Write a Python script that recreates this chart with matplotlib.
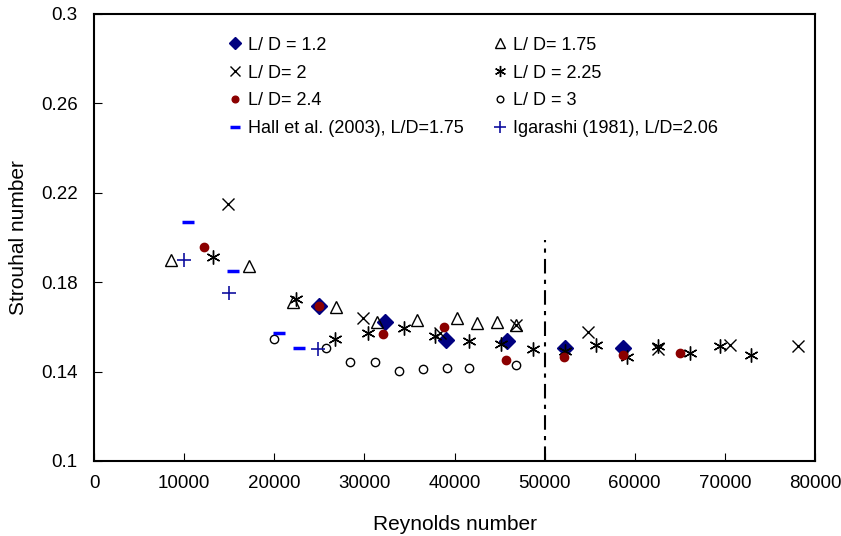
import numpy as np
import matplotlib.pyplot as plt

plt.rcParams['font.family'] = ['Liberation Sans', 'DejaVu Sans']

# L/D = 1.2
re_12 = [25000, 32300, 39100, 45800, 52300, 58700]
st_12 = [0.1694, 0.1622, 0.1541, 0.1537, 0.1506, 0.1506]

# L/D = 1.75
re_175 = [8540, 17200, 22080, 26850, 31400, 35840, 40280, 42490, 44710, 46820]
st_175 = [0.1899, 0.1872, 0.1711, 0.1689, 0.1622, 0.1631, 0.1640, 0.1617, 0.1622, 0.1609]

# L/D = 2
re_2 = [14870, 29850, 38390, 46820, 54810, 62580, 70570, 78110]
st_2 = [0.2150, 0.1640, 0.1573, 0.1609, 0.1577, 0.1501, 0.1519, 0.1515]

# L/D = 2.25
re_225 = [13200, 22410, 26740, 30400, 34400, 37830, 41610, 45160, 48710,
          52260, 55700, 59140, 62580, 66130, 69460, 72900]
st_225 = [0.1913, 0.1725, 0.1546, 0.1573, 0.1595, 0.1559, 0.1537, 0.1523, 0.1501,
          0.1492, 0.1519, 0.1465, 0.1515, 0.1483, 0.1515, 0.1474]

# L/D = 2.4
re_24 = [12200, 24960, 32070, 38830, 45710, 52150, 58690, 65020]
st_24 = [0.1957, 0.1694, 0.1568, 0.1600, 0.1452, 0.1465, 0.1474, 0.1483]

# L/D = 3
re_3 = [19970, 25740, 28400, 31180, 33840, 36500, 39170, 41610, 46820]
st_3 = [0.1546, 0.1506, 0.1443, 0.1443, 0.1403, 0.1412, 0.1416, 0.1416, 0.1430]

# Hall et al. (2003)
re_hall = [10430, 15420, 20530, 22750]
st_hall = [0.2069, 0.1850, 0.1573, 0.1506]

# Igarashi (1981)
re_iga = [9990, 14980, 24850]
st_iga = [0.1899, 0.1752, 0.1501]

x_ticks = [0, 10000, 20000, 30000, 40000, 50000, 60000, 70000, 80000]
y_ticks = [0.1, 0.14, 0.18, 0.22, 0.26, 0.3]
y_ticklabels = ['0.1', '0.14', '0.18', '0.22', '0.26', '0.3']

fig = plt.figure(figsize=(8.41, 5.36), dpi=100)
ax = fig.add_axes([0.112, 0.140, 0.857, 0.834])

h12, = ax.plot(re_12, st_12, 'D', color='#000080', ms=8, ls='none', label='L/ D = 1.2')
h175, = ax.plot(re_175, st_175, '^', mfc='none', mec='black', mew=1, ms=9, ls='none',
                label='L/ D= 1.75')
h2, = ax.plot(re_2, st_2, 'x', color='black', mew=1, ms=9, ls='none', label='L/ D= 2')
h225, = ax.plot(re_225, st_225, marker=(6, 2, 0), color='black', mew=1, ms=10, ls='none',
                label='L/ D = 2.25')
h24, = ax.plot(re_24, st_24, 'o', color='#8B0000', ms=6, ls='none', label='L/ D= 2.4')
h3, = ax.plot(re_3, st_3, 'o', mfc='none', mec='black', mew=1, ms=6, ls='none',
              label='L/ D = 3')
hh, = ax.plot(re_hall, st_hall, '_', color='#0000FF', mew=2.5, ms=9, ls='none',
              label='Hall et al. (2003), L/D=1.75')
hi, = ax.plot(re_iga, st_iga, '+', color='#1010A0', mew=1.2, ms=10, ls='none',
              label='Igarashi (1981), L/D=2.06')

ax.plot([50000, 50000], [0.1, 0.199], color='black', lw=1.5, dashes=(7, 3, 2, 3))

ax.set_xlim(0, 80000)
ax.set_ylim(0.1, 0.3)
ax.set_xticks(x_ticks)
ax.set_xticklabels([str(v) for v in x_ticks])
ax.set_yticks(y_ticks)
ax.set_yticklabels(y_ticklabels)
ax.tick_params(direction='in', length=6, labelsize=13.5)
ax.tick_params(axis='y', pad=12)
ax.tick_params(axis='x', pad=10)
ax.set_xlabel('Reynolds number', fontsize=15, labelpad=17)
ax.set_ylabel('Strouhal number', fontsize=15, labelpad=9)
for spine in ax.spines.values():
    spine.set_linewidth(1.5)

# row-major order like the original legend
handles = [h12, h2, h24, hh, h175, h225, h3, hi]
ax.legend(handles=handles, labels=[h.get_label() for h in handles],
          loc='upper left', bbox_to_anchor=(0.176, 0.965), ncol=2, frameon=False,
          fontsize=13, handlelength=0.8, handletextpad=0.3, columnspacing=1.6,
          labelspacing=0.6, borderaxespad=0, markerscale=0.8)

fig.savefig('out.png', dpi=100)
